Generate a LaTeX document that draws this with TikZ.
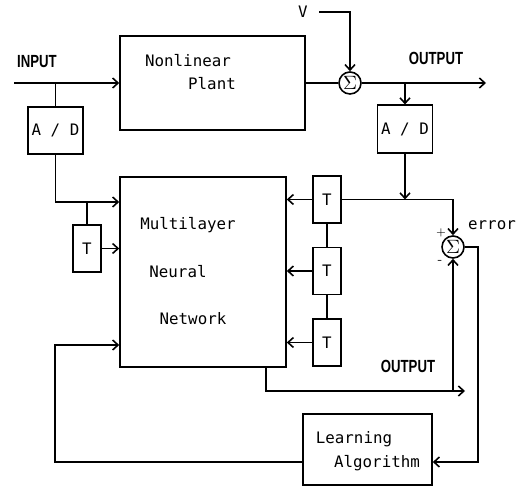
\documentclass[tikz,border=0pt]{standalone}
\usepackage{fontspec}
\setmonofont{DejaVu Sans Mono}
\newfontfamily\iofont[FakeStretch=0.75]{Liberation Sans}
\usetikzlibrary{arrows.meta,positioning}

\begin{document}
\begin{tikzpicture}[
  x=0.02cm, y=-0.02cm,
  line width=0.9pt,
  font=\ttfamily\fontsize{9}{11}\selectfont,
  box/.style={draw, inner sep=0pt},
  tbox/.style={box, minimum width=0.56cm, minimum height=0.94cm},
  adbox/.style={box, minimum width=1.1cm, minimum height=0.95cm},
  sumnode/.style={draw, circle, inner sep=0pt, minimum size=0.44cm, font=\fontsize{11}{11}\selectfont},
  iolabel/.style={font=\iofont\bfseries\fontsize{10}{12}\selectfont},
  arrow/.style={-{Straight Barb[length=1.1mm,width=2mm]}}
]
\useasboundingbox (0,0) rectangle (521,486);

% blocks
\node[box, minimum width=3.7cm, minimum height=1.88cm] (plant) at (212.5,83) {};
\node (plantA) at (188,61) {Nonlinear};
\node (plantB) at (212,84) {Plant};
\node[box, minimum width=3.32cm, minimum height=3.8cm] (nn) at (203,272) {};
\node (nnA) at (188,225) {Multilayer};
\node (nnB) at (178,272) {Neural};
\node (nnC) at (193,319) {Network};
\node[box, minimum width=2.58cm, minimum height=1.42cm] (la) at (367.5,449.5) {};
\node (laA) at (354,439) {Learning};
\node (laB) at (377,463) {Algorithm};
\node[adbox] (adin) at (55.5,130.5) {A / D};
\node[adbox] (adout) at (405,129) {A / D};
\node[tbox] (tin) at (87,248.5) {T};
\node[tbox] (t1) at (327,199.5) {T};
\node[tbox] (t2) at (327,271) {T};
\node[tbox] (t3) at (327,342.5) {T};
\node[sumnode] (sum1) at (350,83) {$\Sigma$};
\node[sumnode] (sum2) at (453,247) {$\Sigma$};

% labels
\node[iolabel] (inlbl) at (37,62) {INPUT};
\node[iolabel] (outlbl) at (436,58) {OUTPUT};
\node[iolabel] (nnoutlbl) at (408,366) {OUTPUT};
\node (vlbl) at (303,12) {V};
\node (errlbl) at (492,225) {error};
\node[font=\fontsize{6}{6}\selectfont] (plus) at (441,233) {+};
\node[font=\fontsize{7}{7}\selectfont] (minus) at (440,262) {-};

\coordinate (in) at (14,83);
\coordinate (out) at (486,83);
\coordinate (adjoin) at (55.5,202);
\coordinate (fb) at (55,345);
\coordinate (nnout) at (465,391);
\coordinate (errturn) at (478,247);

% plant loop
\draw[arrow] (in) -- (plant.west);
\draw (adin.north |- in) -- (adin.north);
\draw (plant.east) -- (sum1.west);
\draw[arrow] ([xshift=0.1cm]vlbl.east) -| (sum1.north);
\draw[arrow] (sum1.east) -- (out);
\draw[arrow] (adout.north |- out) -- (adout.north);

% network inputs
\draw[arrow] (adin.south) -- (adjoin) -- (adjoin -| nn.west);
\draw (tin.north |- adjoin) -- (tin.north);
\draw[arrow] (tin.east) -- (tin.east -| nn.west);
\draw[arrow] (adout.south) -- (adout.south |- t1.east);
\draw[arrow] (t1.east) -| (sum2.north);
\draw (t1.south) -- (t2.north);
\draw (t2.south) -- (t3.north);
\foreach \t in {t1,t2,t3}
  \draw[arrow] (\t.west) -- (\t.west -| nn.east);

% output and learning
\draw[arrow] ([xshift=-0.42cm]nn.south east) |- (nnout);
\draw[arrow] (sum2.south |- nnout) -- (sum2.south);
\draw[arrow] (sum2.east) -- (errturn) |- ([yshift=-0.25cm]la.east);
\draw[arrow] ([yshift=-0.25cm]la.west) -| (fb) -- (fb -| nn.west);
\end{tikzpicture}
\end{document}
